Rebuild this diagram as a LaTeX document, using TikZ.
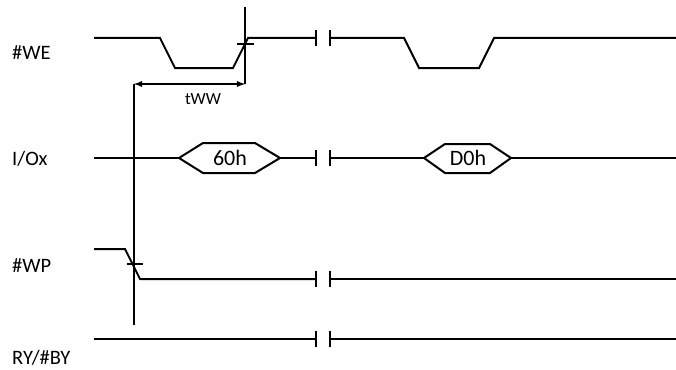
\documentclass[tikz,border=0pt]{standalone}
\usepackage{fontspec}
\setmainfont{Carlito}
\usetikzlibrary{arrows, positioning}
\tikzstyle{sigLine}=[color=black, line width=2pt, line join=miter]
\tikzstyle{markLine}=[color=black, line width=2pt]
\tikzstyle{sigName}=[anchor=west, inner sep=0pt, font=\fontsize{20.5}{24}\selectfont]
\tikzstyle{busText}=[inner sep=0pt, font=\fontsize{22}{26}\selectfont]
\tikzstyle{arrow}=[<->, >=latex, line width=1.8pt, draw=black]

\begin{document}
\begin{tikzpicture}[x=1pt, y=-1pt]
      \useasboundingbox (0,0) rectangle (676,369);
      % signal names
      \node[sigName] (we) at (12,53) {\#WE};
      \node[sigName] (io) at (12,159) {I/Ox};
      \node[sigName] (wp) at (12,266) {\#WP};
      \node[sigName] (ry) at (12,358) {RY/\#BY};

      % #WE
      \coordinate (weA) at (94,38);
      \coordinate (weB) at (160,38);
      \coordinate (weC) at (175,68);
      \coordinate (weD) at (233,68);
      \coordinate (weE) at (248,38);
      \draw[sigLine] (weA) -- (weB) -- (weC) -- (weD) -- (weE) -- (316,38);
      \draw[sigLine] (330,38) -- (404,38) -- (419,68) -- (479,68) -- (494,38) -- (676,38);

      % I/Ox
      \draw[sigLine] (94,158) -- (179,158);
      \draw[sigLine] (179,158) -- (203,143) -- (255,143) -- (280,158)
        -- (255,173) -- (203,173) -- cycle;
      \node[busText] (cmd) at (230,158) {60h};
      \draw[sigLine] (280,158) -- (316,158);
      \draw[sigLine] (330,158) -- (424,158);
      \draw[sigLine] (424,158) -- (445,144) -- (490,144) -- (511,158)
        -- (490,173) -- (445,173) -- cycle;
      \node[busText] (conf) at (468,158) {D0h};
      \draw[sigLine] (511,158) -- (676,158);

      % #WP
      \draw[sigLine] (94,249) -- (125,249) -- (140,279) -- (316,279);
      \draw[sigLine] (330,279) -- (676,279);

      % RY/#BY
      \draw[sigLine] (94,339) -- (316,339);
      \draw[sigLine] (330,339) -- (676,339);

      % breaks
      \foreach \y in {38,158,279,339}
      {
        \draw[markLine] (316,\y-8) -- (316,\y+8);
        \draw[markLine] (330,\y-8) -- (330,\y+8);
      }

      % tWW
      \coordinate (wpEdge) at (134,84);
      \coordinate (weEdge) at (245,84);
      \draw[markLine] (245,7) -- (weEdge);
      \draw[markLine] (237,44) -- (254,44);
      \draw[markLine] (wpEdge) -- (134,325);
      \draw[markLine] (127,264) -- (143,264);
      \draw[arrow] (wpEdge) -- (weEdge);
      \node[inner sep=0pt, font=\fontsize{17}{20}\selectfont] (tww) at (203,99) {tWW};
    \end{tikzpicture}
\end{document}
